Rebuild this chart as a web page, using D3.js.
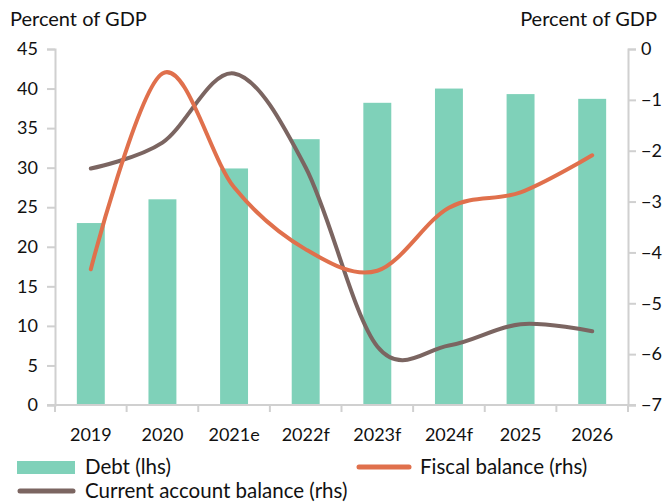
<!DOCTYPE html>
<html lang="en">
<head>
<meta charset="UTF-8">
<script src="https://d3js.org/d3.v7.min.js"></script>
<title>Debt, fiscal and current account balance</title>
<style>
    body { margin: 0; background: #fff; }
    text { font-family: Lato, "Open Sans", sans-serif; fill: #111; }
</style>
</head>
<body>
<div id="chart"></div>
<script>
    // data
    var years = ["2019", "2020", "2021e", "2022f", "2023f", "2024f", "2025", "2026"];
    var debt = [23.0, 26.0, 29.9, 33.6, 38.2, 40.0, 39.3, 38.7];
    var fiscal = [-4.33, -0.48, -2.72, -3.94, -4.36, -3.12, -2.82, -2.09];
    var currentAccount = [-2.35, -1.84, -0.48, -2.33, -5.85, -5.83, -5.41, -5.55];
    var leftTicks = [0, 5, 10, 15, 20, 25, 30, 35, 40, 45];
    var rightTicks = [-7, -6, -5, -4, -3, -2, -1, 0];

    var width = 667, height = 502;
    var plotLeft = 55, plotRight = 628, plotTop = 49, plotBottom = 405;
    var axisColor = "#d0d0d0";

    var svg = d3.select("#chart").append("svg")
        .attr("width", width)
        .attr("height", height);

    var x = d3.scaleBand().domain(years).range([plotLeft, plotRight]);
    var yL = d3.scaleLinear().domain([0, 45]).range([plotBottom, plotTop]);
    var yR = d3.scaleLinear().domain([-7, 0]).range([plotBottom, plotTop]);

    //bars
    var barW = x.bandwidth() * 0.39;
    svg.selectAll("rect.bar")
        .data(debt)
        .join("rect")
        .attr("class", "bar")
        .attr("x", function(d, i){ return x(years[i]) + x.bandwidth() / 2 - barW / 2 })
        .attr("y", function(d){ return yL(d) })
        .attr("width", barW)
        .attr("height", function(d){ return yL(0) - yL(d) })
        .attr("fill", "#7fd1b9");

    //axes
    var gL = svg.append("g")
        .attr("transform", "translate(" + plotLeft + ",0)")
        .call(d3.axisLeft(yL).tickValues(leftTicks).tickSize(8).tickPadding(9));
    var gR = svg.append("g")
        .attr("transform", "translate(" + plotRight + ",0)")
        .call(d3.axisRight(yR).tickValues(rightTicks).tickFormat(d3.format("d")).tickSize(8).tickPadding(5));
    var gB = svg.append("g")
        .attr("transform", "translate(0," + plotBottom + ")")
        .call(d3.axisBottom(x).tickSize(0).tickPadding(23));

    [gL, gR, gB].forEach(function(g){
        g.selectAll("path.domain").attr("stroke", axisColor).attr("stroke-width", 2);
        g.selectAll(".tick line").attr("stroke", axisColor).attr("stroke-width", 2);
        g.selectAll("text").attr("font-size", "18px").attr("fill", "#111")
            .style("font-family", "Lato, 'Open Sans', sans-serif");
    });
    gB.select("path.domain").remove();

    // baseline with category boundary ticks
    svg.append("line")
        .attr("x1", plotLeft - 8).attr("x2", plotRight + 8)
        .attr("y1", plotBottom).attr("y2", plotBottom)
        .attr("stroke", axisColor).attr("stroke-width", 2);
    var bounds = years.map(function(d){ return x(d) }).concat([plotRight]);
    svg.selectAll("line.btick")
        .data(bounds)
        .join("line")
        .attr("class", "btick")
        .attr("x1", function(d){ return d }).attr("x2", function(d){ return d })
        .attr("y1", plotBottom).attr("y2", plotBottom + 7)
        .attr("stroke", axisColor).attr("stroke-width", 2);

    //lines
    function drawLine(values, color){
        var line = d3.line()
            .x(function(d, i){ return x(years[i]) + x.bandwidth() / 2 })
            .y(function(d){ return yR(d) })
            .curve(d3.curveCatmullRom.alpha(0));
        svg.append("path")
            .datum(values)
            .attr("d", line)
            .attr("fill", "none")
            .attr("stroke", color)
            .attr("stroke-width", 4)
            .attr("stroke-linecap", "round");
    }
    drawLine(currentAccount, "#7b6561");
    drawLine(fiscal, "#e0704c");

    //axis titles
    svg.append("text").attr("x", 10).attr("y", 26)
        .attr("font-size", "20px").text("Percent of GDP");
    svg.append("text").attr("x", 657).attr("y", 26)
        .attr("text-anchor", "end")
        .attr("font-size", "20px").text("Percent of GDP");

    //legend
    var legend = svg.append("g");
    legend.append("rect").attr("x", 17).attr("y", 461).attr("width", 58).attr("height", 13)
        .attr("fill", "#7fd1b9");
    legend.append("text").attr("x", 85).attr("y", 474).attr("font-size", "20.5px").text("Debt (lhs)");
    legend.append("line").attr("x1", 359).attr("x2", 409).attr("y1", 467).attr("y2", 467)
        .attr("stroke", "#e0704c").attr("stroke-width", 5).attr("stroke-linecap", "round");
    legend.append("text").attr("x", 420).attr("y", 474).attr("font-size", "20.5px").text("Fiscal balance (rhs)");
    legend.append("line").attr("x1", 20).attr("x2", 73).attr("y1", 491).attr("y2", 491)
        .attr("stroke", "#7b6561").attr("stroke-width", 5).attr("stroke-linecap", "round");
    legend.append("text").attr("x", 85).attr("y", 498).attr("font-size", "20.5px").text("Current account balance (rhs)");
</script>
</body>
</html>
